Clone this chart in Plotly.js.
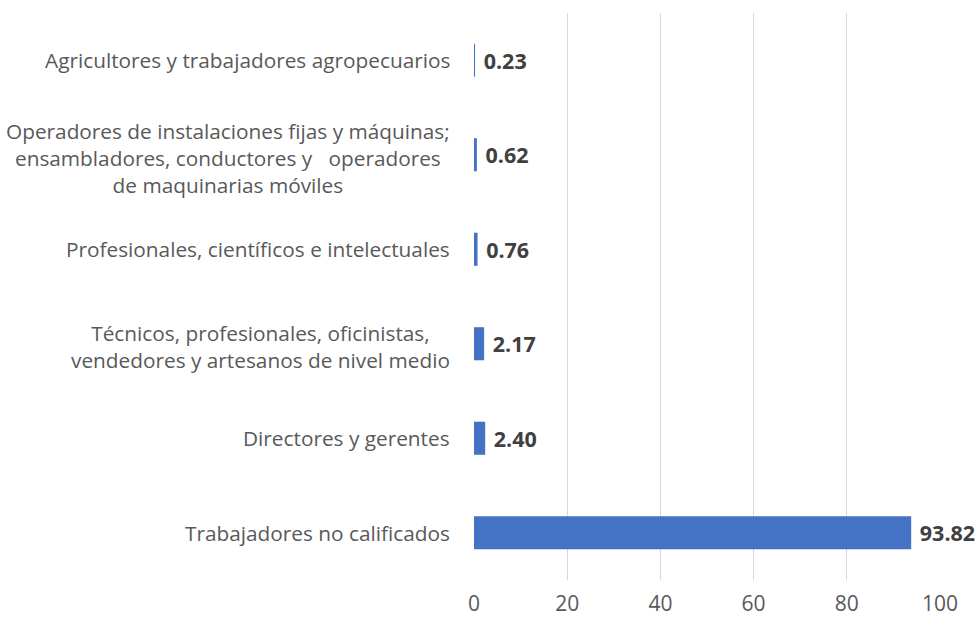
<!DOCTYPE html>
<html>
<head>
<meta charset="utf-8">
<script src="https://cdn.plot.ly/plotly-3.0.1.min.js"></script>
<style>
html,body{margin:0;padding:0;background:#fff;}
#chart{width:977px;height:619px;}
</style>
</head>
<body>
<div id="chart"></div>
<script>
// Data (bottom to top)
const categories = [
  'Trabajadores no calificados',
  'Directores y gerentes',
  'Técnicos, profesionales, oficinistas,<br>vendedores y artesanos de nivel medio',
  'Profesionales, científicos e intelectuales',
  'Operadores de instalaciones fijas y máquinas;<br>ensambladores, conductores y   operadores<br>de maquinarias móviles',
  'Agricultores y trabajadores agropecuarios'
];
const values = [93.82, 2.40, 2.17, 0.76, 0.62, 0.23];
const xTicks = [0, 20, 40, 60, 80, 100];

const FONT = '"Open Sans", "Noto Sans", sans-serif';

const trace = {
  type: 'bar',
  orientation: 'h',
  y: categories,
  x: values,
  marker: {color: '#4472C4'},
  text: values.map(v => '\u00a0' + v.toFixed(2)),
  textposition: 'outside',
  textfont: {family: FONT, size: 21.5, color: '#404040', weight: 'bold'},
  constraintext: 'none',
  cliponaxis: false,
  hoverinfo: 'x+y'
};

const annotations = categories.map(cat => {
  const multi = cat.indexOf('<br>') >= 0;
  return {
    xref: 'paper', yref: 'y',
    x: 0, y: cat,
    xanchor: 'right', yanchor: 'middle',
    align: 'center',
    xshift: -22,
    yshift: multi ? -3 : 0,
    text: cat.replace(/ {2,}/g, m => ' ' + '\u00a0'.repeat(m.length - 1)),
    showarrow: false,
    font: {family: FONT, size: 20.8, color: '#595959'}
  };
});

const layout = {
  width: 977, height: 619,
  margin: {l: 474, r: 37, t: 13, b: 39, pad: 0},
  paper_bgcolor: '#ffffff',
  plot_bgcolor: '#ffffff',
  bargap: 0.65,
  showlegend: false,
  xaxis: {
    range: [0, 100],
    tickvals: xTicks,
    ticktext: xTicks.map(String),
    showgrid: true,
    gridcolor: '#d9d9d9',
    gridwidth: 1,
    zeroline: false,
    showline: false,
    ticks: '',
    ticklabelstandoff: 9,
    tickfont: {family: FONT, size: 21, color: '#595959'},
    fixedrange: true
  },
  yaxis: {
    type: 'category',
    categoryorder: 'array',
    categoryarray: categories,
    showticklabels: false,
    showgrid: false,
    zeroline: false,
    showline: false,
    ticks: '',
    fixedrange: true
  },
  annotations: annotations
};

Plotly.newPlot('chart', [trace], layout, {displayModeBar: false, staticPlot: true});
</script>
</body>
</html>
